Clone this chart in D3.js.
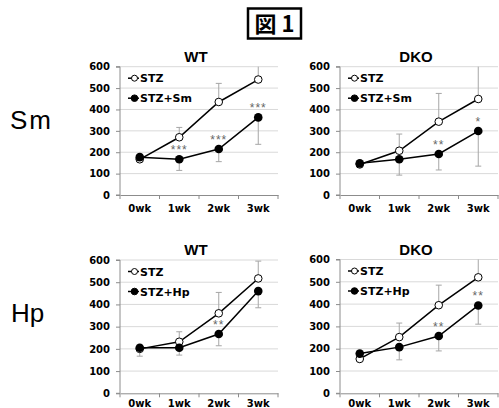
<!DOCTYPE html>
<html><head><meta charset="utf-8">
<script src="https://cdn.jsdelivr.net/npm/d3@7"></script>
<style>
body{margin:0;background:#fff;}
svg{display:block;font-family:"Liberation Sans",Arial,sans-serif;}
</style></head>
<body><svg id="c" width="499" height="408"></svg>
<script>
const categories = ["0wk","1wk","2wk","3wk"];
const yTicks = [0,100,200,300,400,500,600];
const seriesNames = ["STZ","STZ+Sm","STZ+Hp"];

const wtSmSTZ = [167, 270, 435, 540];
const wtSmSTZErr = [8, 46, 87, 62];
const wtSmTrt = [177, 167, 215, 363];
const wtSmTrtErr = [8, 52, 59, 126];
const wtSmStars = ["", "***", "***", "***"];

const dkoSmSTZ = [143, 207, 343, 449];
const dkoSmSTZErr = [6, 78, 132, 155];
const dkoSmTrt = [148, 167, 192, 299];
const dkoSmTrtErr = [8, 74, 75, 164];
const dkoSmStars = ["", "", "**", "*"];

const wtHpSTZ = [200, 232, 360, 517];
const wtHpSTZErr = [10, 45, 94, 78];
const wtHpTrt = [205, 205, 267, 460];
const wtHpTrtErr = [38, 33, 53, 75];
const wtHpStars = ["", "", "**", ""];

const dkoHpSTZ = [154, 252, 395, 520];
const dkoHpSTZErr = [10, 63, 90, 85];
const dkoHpTrt = [178, 207, 257, 394];
const dkoHpTrtErr = [8, 57, 67, 84];
const dkoHpStars = ["", "", "**", "**"];

const svg = d3.select("#c");

// Figure label
svg.append("rect").attr("x",248).attr("y",8.5).attr("width",53).attr("height",30)
  .attr("fill","none").attr("stroke","#000").attr("stroke-width",2.5);
svg.append("text").attr("x",274.5).attr("y",32).attr("text-anchor","middle")
  .attr("font-family","'Noto Sans CJK JP',sans-serif").attr("font-weight","bold")
  .attr("font-size",22).text("図 1");

// Row labels
svg.append("text").attr("x",10).attr("y",128.5).attr("font-size",26).attr("letter-spacing",2).text("Sm");
svg.append("text").attr("x",11).attr("y",321.5).attr("font-size",26).text("Hp");

const panels = [
  {title:"WT", x0:120, y0:66.7, w:158, h:128.3, stz:wtSmSTZ, stzErr:wtSmSTZErr, trt:wtSmTrt, trtErr:wtSmTrtErr, stars:wtSmStars, trtName:seriesNames[1], titleY:62, labY:212},
  {title:"DKO", x0:340, y0:66.7, w:158, h:128.3, stz:dkoSmSTZ, stzErr:dkoSmSTZErr, trt:dkoSmTrt, trtErr:dkoSmTrtErr, stars:dkoSmStars, trtName:seriesNames[1], titleY:62, labY:212},
  {title:"WT", x0:120, y0:260, w:158, h:133.3, stz:wtHpSTZ, stzErr:wtHpSTZErr, trt:wtHpTrt, trtErr:wtHpTrtErr, stars:wtHpStars, trtName:seriesNames[2], titleY:255, labY:406.5},
  {title:"DKO", x0:340, y0:259.5, w:158, h:133.8, stz:dkoHpSTZ, stzErr:dkoHpSTZErr, trt:dkoHpTrt, trtErr:dkoHpTrtErr, stars:dkoHpStars, trtName:seriesNames[2], titleY:255, labY:406.5}
];

panels.forEach(p => {
  const g = svg.append("g").attr("transform",`translate(${p.x0},${p.y0})`);
  const x = d3.scaleBand().domain(categories).range([0,p.w]);
  const y = d3.scaleLinear().domain([0,600]).range([p.h,0]);
  const cx = c => x(c) + x.bandwidth()/2;

  // gridlines
  g.selectAll("line.grid").data(yTicks.filter(t=>t>0)).join("line")
    .attr("x1",0).attr("x2",p.w).attr("y1",d=>y(d)).attr("y2",d=>y(d))
    .attr("stroke","#d9d9d9").attr("stroke-width",1);

  // y axis
  const ya = g.append("g").call(d3.axisLeft(y).tickValues(yTicks).tickSize(4).tickPadding(6));
  ya.select(".domain").attr("stroke","#8c8c8c").attr("d",`M-4,${p.h}H0V0H-4`);
  ya.selectAll(".tick line").attr("stroke","#8c8c8c");
  ya.selectAll("text").attr("font-size",10).attr("font-weight","bold").attr("fill","#000")
    .attr("font-family","'DejaVu Sans',sans-serif");

  // x axis
  const xa = g.append("g").attr("transform",`translate(0,${p.h})`)
    .call(d3.axisBottom(x).tickSize(0).tickPadding(0));
  xa.select(".domain").attr("stroke","#8c8c8c");
  xa.selectAll("text").remove();
  g.selectAll("line.xt").data(categories.concat([null])).join("line")
    .attr("x1",(d,i)=>i*x.step()).attr("x2",(d,i)=>i*x.step())
    .attr("y1",p.h).attr("y2",p.h+4).attr("stroke","#8c8c8c");
  svg.selectAll(null).data(categories).enter().append("text")
    .attr("x",d=>p.x0+cx(d)).attr("y",p.labY).attr("text-anchor","middle")
    .attr("font-size",10).attr("font-weight","bold").attr("font-family","'DejaVu Sans',sans-serif")
    .text(d=>d);

  // title
  svg.append("text").attr("x",p.x0+p.w/2-3).attr("y",p.titleY).attr("text-anchor","middle")
    .attr("font-size",15).attr("font-weight","bold").attr("font-family","'Liberation Sans',Arial,sans-serif")
    .text(p.title);

  // error bars
  const eb = (vals, errs, dir) => {
    vals.forEach((v,i) => {
      const xc = cx(categories[i]);
      const end = Math.max(0, Math.min(600, v + dir*errs[i]));
      g.append("line").attr("x1",xc).attr("x2",xc).attr("y1",y(v)).attr("y2",y(end))
        .attr("stroke","#a6a6a6").attr("stroke-width",1);
      if (v + dir*errs[i] <= 600)
        g.append("line").attr("x1",xc-3).attr("x2",xc+3).attr("y1",y(end)).attr("y2",y(end))
          .attr("stroke","#a6a6a6").attr("stroke-width",1);
    });
  };
  eb(p.stz, p.stzErr, 1);
  eb(p.trt, p.trtErr, -1);

  const line = d3.line().x((d,i)=>cx(categories[i])).y(d=>y(d));
  g.append("path").datum(p.stz).attr("d",line).attr("fill","none").attr("stroke","#000").attr("stroke-width",1.5);
  g.append("path").datum(p.trt).attr("d",line).attr("fill","none").attr("stroke","#000").attr("stroke-width",1.5);

  g.selectAll(null).data(p.stz).enter().append("circle")
    .attr("cx",(d,i)=>cx(categories[i])).attr("cy",d=>y(d)).attr("r",3.8)
    .attr("fill","#fff").attr("stroke","#000").attr("stroke-width",1);
  g.selectAll(null).data(p.trt).enter().append("circle")
    .attr("cx",(d,i)=>cx(categories[i])).attr("cy",d=>y(d)).attr("r",4.3)
    .attr("fill","#000");

  // stars
  g.selectAll(null).data(p.stars).enter().append("text")
    .attr("x",(d,i)=>cx(categories[i])).attr("y",(d,i)=>y(p.trt[i])-5)
    .attr("text-anchor","middle").attr("font-size",12).attr("fill","#666")
    .attr("letter-spacing",1)
    .attr("font-family","'Liberation Sans',Arial,sans-serif").text(d=>d);

  // legend
  const leg = [{name:seriesNames[0], fill:"#fff", r:3, ly:11.5},{name:p.trtName, fill:"#000", r:3.3, ly:31.5}];
  leg.forEach(l => {
    g.append("line").attr("x1",8).attr("x2",19).attr("y1",l.ly).attr("y2",l.ly).attr("stroke","#000").attr("stroke-width",1.5);
    g.append("circle").attr("cx",14.5).attr("cy",l.ly).attr("r",l.r).attr("fill",l.fill).attr("stroke","#000");
    g.append("text").attr("x",20).attr("y",l.ly+4).attr("font-size",11).attr("font-weight","bold")
      .attr("font-family","'DejaVu Sans',sans-serif").text(l.name);
  });
});
</script></body></html>
